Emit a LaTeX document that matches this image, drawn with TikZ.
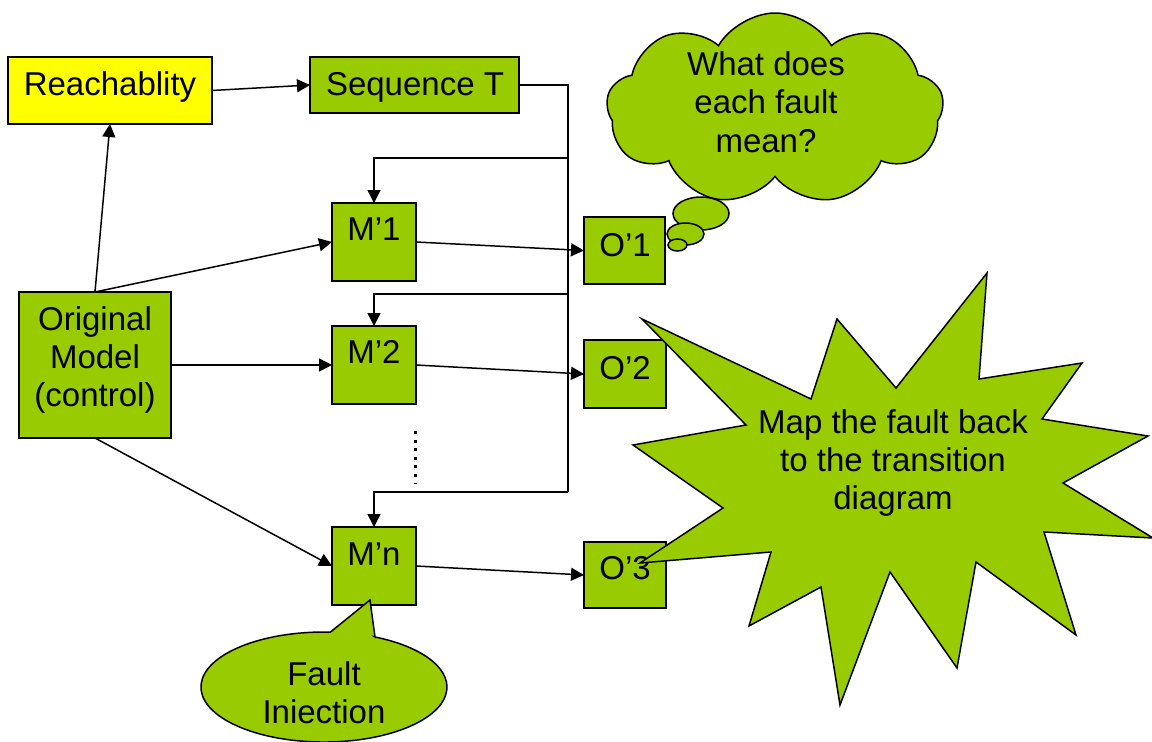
\documentclass[tikz,border=0pt]{standalone}
\usepackage{fontspec}
\setmainfont{Liberation Sans}
\usetikzlibrary{arrows.meta,shapes.symbols,shapes.geometric}
\definecolor{boxgreen}{HTML}{99CC00}
\definecolor{boxyellow}{HTML}{FFFF00}
\begin{document}
\begin{tikzpicture}[x=1pt,y=1pt,
  box/.style={draw=black, line width=1.6pt, fill=boxgreen, inner sep=0pt, outer sep=0pt},
  lbl/.style={font=\fontsize{33}{38}\selectfont, inner sep=0pt, outer sep=0pt, anchor=base},
  conn/.style={line width=1.5pt, -{Triangle[length=13pt,width=13pt]}},
  wire/.style={line width=1.5pt},
  shapeline/.style={draw=black, line width=1.5pt, fill=boxgreen}]
\useasboundingbox (0,0) rectangle (1152,-742);
\fill[white] (0,0) rectangle (1152,-742);

% boxes
\node[box, fill=boxyellow, minimum width=204pt, minimum height=67pt] (reach) at (110,-90.5) {};
\node[box, minimum width=209pt, minimum height=56pt] (seqT) at (414.5,-85) {};
\node[box, minimum width=152pt, minimum height=146pt] (orig) at (95,-365) {};
\node[box, minimum width=84pt, minimum height=78pt] (m1) at (374,-242) {};
\node[box, minimum width=84pt, minimum height=78pt] (m2) at (374,-365) {};
\node[box, minimum width=84pt, minimum height=78pt] (mn) at (374,-566) {};
\node[box, minimum width=81pt, minimum height=67pt] (o1) at (624.5,-250.5) {};
\node[box, minimum width=82pt, minimum height=68pt] (o2) at (625,-374) {};
\node[box, minimum width=82pt, minimum height=66pt] (o3) at (625,-575) {};

% box texts
\node[lbl] (reachT) at (110,-95) {Reachablity};
\node[lbl] (seqTT) at (415,-95) {Sequence T};
\node[lbl] (origT1) at (95,-330) {Original};
\node[lbl] (origT2) at (95,-368) {Model};
\node[lbl] (origT3) at (95,-406) {(control)};
\node[lbl] (m1T) at (374,-240) {M’1};
\node[lbl] (m2T) at (374,-363) {M’2};
\node[lbl] (mnT) at (374,-565) {M’n};
\node[lbl] (o1T) at (625,-256) {O’1};
\node[lbl] (o2T) at (625,-379) {O’2};
\node[lbl] (o3T) at (625,-579) {O’3};

% connectors
\draw[conn] (orig.north) -- (reach.south);
\draw[conn] (reach.east) -- (seqT.west);
\draw[conn] (orig.north) -- (m1.west);
\draw[conn] (orig.east) -- (m2.west);
\draw[conn] (orig.south) -- (mn.west);
\draw[conn] (m1.east) -- (o1.west);
\draw[conn] (m2.east) -- (o2.west);
\draw[conn] (mn.east) -- (o3.west);

\coordinate (busTop) at (568,-85);
\coordinate (b1) at (568,-158);
\coordinate (b2) at (568,-294);
\coordinate (b3) at (568,-492);
\draw[wire] (seqT.east) -- (busTop) -- (b3);
\draw[conn] (b1) -| (m1.north);
\draw[conn] (b2) -| (m2.north);
\draw[conn] (b3) -| (mn.north);

% vertical dots
\coordinate (dotA) at (415,-431);
\coordinate (dotB) at (415,-484);
\draw[line width=3pt, dash pattern=on 3pt off 5.6pt] (dotA) -- (dotB);

% explosion
\draw[shapeline] (642,-319) -- (811,-399) -- (837,-319) -- (896,-388) -- (987,-273)
  -- (979,-379) -- (1082,-363) -- (1042,-419) -- (1148,-436) -- (1063,-483)
  -- (1153,-538) -- (1044,-532) -- (1076,-635) -- (976,-562) -- (957,-668)
  -- (890,-572) -- (840,-705) -- (821,-587) -- (749,-626) -- (771,-552)
  -- (640,-563) -- (723,-508) -- (633,-445) -- (746,-425) -- cycle;
\node[lbl] (starT1) at (893,-433) {Map the fault back};
\node[lbl] (starT2) at (893,-471) {to the transition};
\node[lbl] (starT3) at (893,-509) {diagram};

% thought cloud
\node[cloud, shapeline, cloud puffs=9, cloud puff arc=120, cloud ignores aspect,
  minimum width=337pt, minimum height=192pt, inner sep=0pt] (cloud) at (775,-109) {};
\node[ellipse, shapeline, minimum width=56pt, minimum height=33pt, inner sep=0pt] (bub1) at (701,-213.5) {};
\node[ellipse, shapeline, minimum width=37pt, minimum height=22pt, inner sep=0pt] (bub2) at (685.5,-234) {};
\node[ellipse, shapeline, minimum width=19pt, minimum height=12pt, inner sep=0pt] (bub3) at (677.5,-245) {};
\node[lbl] (cloudT1) at (766,-75) {What does};
\node[lbl] (cloudT2) at (766,-113) {each fault};
\node[lbl] (cloudT3) at (766,-152) {mean?};

% fault injection callout
\draw[shapeline] (375,-637) -- (370,-600) -- (330.4,-632.1)
  arc[start angle=87, end angle=425.5, x radius=123, y radius=55] -- cycle;
\node[lbl] (faultT1) at (324,-685) {Fault};
\node[lbl] (faultT2) at (324,-723) {Iniection};
\end{tikzpicture}
\end{document}
